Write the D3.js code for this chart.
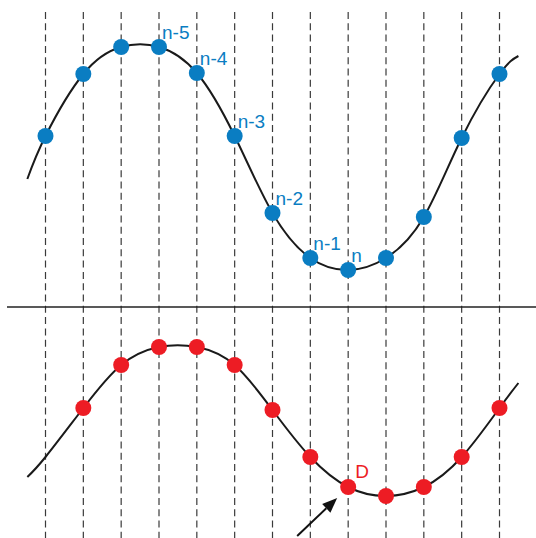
<!DOCTYPE html>
<html><head><meta charset="utf-8">
<script src="https://cdn.jsdelivr.net/npm/d3@7"></script>
<style>html,body{margin:0;padding:0;background:#fff}svg{display:block}</style>
</head><body>
<script>
// sample index positions (dashed grid lines)
const gridIdx = d3.range(0, 13);
// top (blue) samples: value = height above middle line
const topIdx =    [0,1,2,3,4,5,6,7,8,9,10,11,12];
const topVals =   [171,233,260,260,234,171,94,49,37,49,90,169,233];
// top curve ends (beyond the samples)
const topCurveIdx = [-0.48, 12.5];
const topCurveVals = [128, 251];
const topLabels = [{i:3,t:"n-5"},{i:4,t:"n-4"},{i:5,t:"n-3"},{i:6,t:"n-2"},{i:7,t:"n-1"},{i:8,t:"n"}];
// bottom (red) samples: value relative to middle line (negative = below)
const botIdx =  [1,2,3,4,5,6,7,8,9,10,11,12];
const botVals = [-101,-58,-40,-40,-58,-103,-150,-180,-189,-180,-150,-101];
// bottom curve passes through these extra (unmarked) points
const botCurveIdx = [-0.48, 0, 12.5];
const botCurveVals = [-170, -150, -76];
const botLabel = {i:8, t:"D"};

const W = 536, H = 538;
const svg = d3.select("body").append("svg").attr("width", W).attr("height", H);
const x = d3.scaleLinear().domain([0, 12]).range([45.5, 499.5]);
const y = d3.scaleLinear().domain([0, 300]).range([307, 7]);

const blue = "#0a7dc2", red = "#ed1c24";

// dashed grid
svg.append("g").selectAll("line").data(gridIdx).join("line")
  .attr("x1", d => x(d)).attr("x2", d => x(d))
  .attr("y1", 12).attr("y2", H)
  .attr("stroke", "#3a3a3a").attr("stroke-width", 1.2)
  .attr("stroke-dasharray", "7,4.3");

// middle line
svg.append("line").attr("x1", 7).attr("x2", W).attr("y1", y(0)).attr("y2", y(0))
  .attr("stroke", "#222").attr("stroke-width", 1.6);

const line = d3.line().x(d => x(d[0])).y(d => y(d[1])).curve(d3.curveNatural);

function curvePts(idx, vals, cIdx, cVals) {
  const pts = idx.map((d, k) => [d, vals[k]]).concat(cIdx.map((d, k) => [d, cVals[k]]));
  return pts.sort((a, b) => a[0] - b[0]);
}

svg.append("path").attr("d", line(curvePts(topIdx, topVals, topCurveIdx, topCurveVals)))
  .attr("fill", "none").attr("stroke", "#1a1a1a").attr("stroke-width", 2);
svg.append("path").attr("d", line(curvePts(botIdx, botVals, botCurveIdx, botCurveVals)))
  .attr("fill", "none").attr("stroke", "#1a1a1a").attr("stroke-width", 2);

svg.append("g").selectAll("circle").data(topIdx).join("circle")
  .attr("cx", d => x(d)).attr("cy", (d, k) => y(topVals[k])).attr("r", 8).attr("fill", blue);
svg.append("g").selectAll("circle").data(botIdx).join("circle")
  .attr("cx", d => x(d)).attr("cy", (d, k) => y(botVals[k])).attr("r", 8).attr("fill", red);

// labels
const lblFont = "Liberation Sans, Arial, sans-serif";
svg.append("g").selectAll("text").data(topLabels).join("text")
  .attr("x", d => x(d.i) + 3).attr("y", d => y(topVals[topIdx.indexOf(d.i)]) - 8)
  .attr("font-family", lblFont).attr("font-size", 19).attr("fill", blue).text(d => d.t);
svg.append("text").attr("x", x(botLabel.i) + 7).attr("y", y(botVals[botIdx.indexOf(botLabel.i)]) - 9)
  .attr("font-family", lblFont).attr("font-size", 19).attr("fill", red).text(botLabel.t);

// arrow pointing to D
const tipX = x(botLabel.i) - 11, tipY = y(botVals[botIdx.indexOf(botLabel.i)]) + 11;
const sx = tipX - 40, sy = tipY + 38;
const ang = Math.atan2(tipY - sy, tipX - sx);
const hl = 15, hw = 6;
const bx = tipX - hl * Math.cos(ang), by = tipY - hl * Math.sin(ang);
svg.append("line").attr("x1", sx).attr("y1", sy).attr("x2", bx).attr("y2", by)
  .attr("stroke", "#111").attr("stroke-width", 2);
svg.append("path").attr("d", `M${tipX},${tipY}L${bx + hw*Math.sin(ang)},${by - hw*Math.cos(ang)}L${bx - hw*Math.sin(ang)},${by + hw*Math.cos(ang)}Z`)
  .attr("fill", "#111");
</script>
</body></html>
